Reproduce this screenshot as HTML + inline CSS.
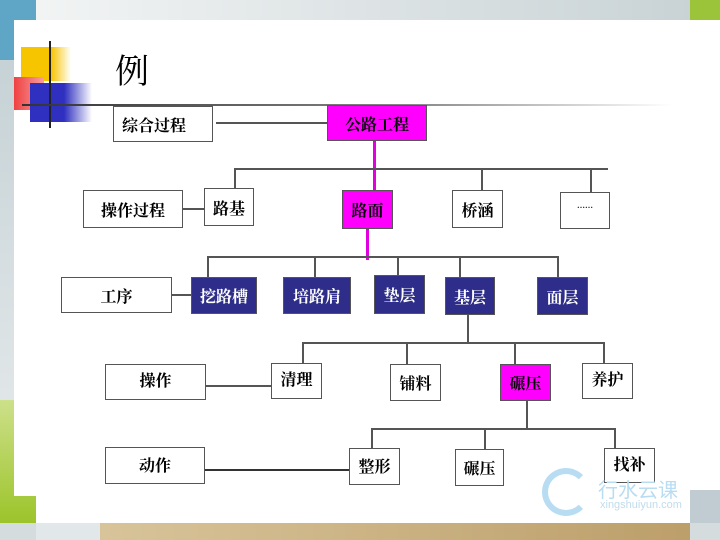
<!DOCTYPE html>
<html><head><meta charset="utf-8"><style>
body{margin:0;width:720px;height:540px;overflow:hidden;position:relative;background:#d4dcde;font-family:"Liberation Serif","Noto Serif CJK SC","Noto Sans CJK SC",serif}
div{position:absolute;box-sizing:border-box}
.b{border:1.5px solid #555;background:#fff;display:flex;align-items:center;justify-content:center;font-size:16px;font-weight:bold;color:#000}
.m{background:#f0f;border-color:#555}
.n{background:#2e2e8a;color:#fff;border-color:#555}
.h{height:1.5px;background:#555}
.v{width:1.5px;background:#555}
</style></head><body>
<div style="left:0;top:0;width:36px;height:60px;background:#5fa6c6"></div>
<div style="left:0;top:60px;width:36px;height:340px;background:linear-gradient(#c6d2d6,#e0e6e8)"></div>
<div style="left:0;top:400px;width:36px;height:123px;background:linear-gradient(#cde08a,#9cc42a)"></div>
<div style="left:36px;top:0;width:654px;height:20px;background:linear-gradient(90deg,#f2f4f4,#c9d3d6)"></div>
<div style="left:690px;top:0;width:30px;height:20px;background:#9cc43a"></div>
<div style="left:690px;top:490px;width:30px;height:33px;background:#c0ccd2"></div>
<div style="left:100px;top:523px;width:590px;height:17px;background:linear-gradient(90deg,#d8c49a,#bc9f6a)"></div>
<div style="left:36px;top:523px;width:64px;height:17px;background:#e2e8ea"></div>
<div style="left:14px;top:20px;width:706px;height:470px;background:#fff"></div>
<div style="left:36px;top:490px;width:654px;height:33px;background:#fff"></div>
<div style="left:14px;top:490px;width:22px;height:6px;background:#fff"></div>
<div style="left:21px;top:47px;width:50px;height:34px;background:linear-gradient(90deg,#f7c400 60%,rgba(247,196,0,0))"></div>
<div style="left:14px;top:77px;width:30px;height:33px;background:linear-gradient(90deg,#f04040,#f8a0a0)"></div>
<div style="left:30px;top:83px;width:62px;height:39px;background:linear-gradient(90deg,#3030c0 55%,rgba(48,48,192,0))"></div>
<div style="left:49px;top:41px;width:2px;height:87px;background:#222"></div>
<div style="left:22px;top:104px;width:650px;height:2px;background:linear-gradient(90deg,#333,#888 60%,rgba(255,255,255,0))"></div>
<div style="left:115px;top:44px;font-size:34px;color:#000">例</div>

<div class="h" style="left:216px;top:122px;width:111px"></div>
<div style="left:373px;top:141px;width:3px;height:51px;background:#e000e0"></div>
<div style="left:366px;top:228px;width:3px;height:32px;background:#e000e0"></div>
<div class="h" style="left:234px;top:168px;width:374px"></div>
<div class="v" style="left:234px;top:168px;height:20px"></div>
<div class="v" style="left:481px;top:168px;height:22px"></div>
<div class="v" style="left:590px;top:168px;height:24px"></div>
<div class="h" style="left:182px;top:208px;width:22px"></div>
<div class="h" style="left:207px;top:256px;width:350px"></div>
<div class="v" style="left:207px;top:256px;height:21px"></div>
<div class="v" style="left:314px;top:256px;height:21px"></div>
<div class="v" style="left:397px;top:256px;height:19px"></div>
<div class="v" style="left:459px;top:256px;height:21px"></div>
<div class="v" style="left:557px;top:256px;height:21px"></div>
<div class="h" style="left:171px;top:294px;width:20px"></div>
<div class="v" style="left:467px;top:314px;height:28px"></div>
<div class="h" style="left:302px;top:342px;width:302px"></div>
<div class="v" style="left:302px;top:342px;height:21px"></div>
<div class="v" style="left:406px;top:342px;height:22px"></div>
<div class="v" style="left:514px;top:342px;height:22px"></div>
<div class="v" style="left:603px;top:342px;height:21px"></div>
<div class="h" style="left:205px;top:385px;width:66px"></div>
<div class="v" style="left:526px;top:400px;height:28px"></div>
<div class="h" style="left:371px;top:428px;width:244px"></div>
<div class="v" style="left:371px;top:428px;height:20px"></div>
<div class="v" style="left:484px;top:428px;height:21px"></div>
<div class="v" style="left:614px;top:428px;height:20px"></div>
<div class="h" style="left:204px;top:469px;width:149px;background:#333"></div>

<div class="b" style="left:113px;top:106px;width:100px;height:36px;justify-content:flex-start;padding-left:8px">综合过程</div>
<div class="b m" style="left:327px;top:105px;width:100px;height:36px">公路工程</div>
<div class="b" style="left:83px;top:190px;width:100px;height:38px">操作过程</div>
<div class="b" style="left:204px;top:188px;width:50px;height:38px">路基</div>
<div class="b m" style="left:342px;top:190px;width:51px;height:39px">路面</div>
<div class="b" style="left:452px;top:190px;width:51px;height:38px">桥涵</div>
<div class="b" style="left:560px;top:192px;width:50px;height:37px;font-size:8px;align-items:flex-start;padding-top:8px">……</div>
<div class="b" style="left:61px;top:277px;width:111px;height:36px">工序</div>
<div class="b n" style="left:191px;top:277px;width:66px;height:37px">挖路槽</div>
<div class="b n" style="left:283px;top:277px;width:68px;height:37px">培路肩</div>
<div class="b n" style="left:374px;top:275px;width:51px;height:39px">垫层</div>
<div class="b n" style="left:445px;top:277px;width:50px;height:38px">基层</div>
<div class="b n" style="left:537px;top:277px;width:51px;height:38px">面层</div>
<div class="b" style="left:105px;top:364px;width:101px;height:36px;align-items:flex-start;padding-top:3px">操作</div>
<div class="b" style="left:271px;top:363px;width:51px;height:36px;align-items:flex-start;padding-top:3px">清理</div>
<div class="b" style="left:390px;top:364px;width:51px;height:37px">铺料</div>
<div class="b m" style="left:500px;top:364px;width:51px;height:37px">碾压</div>
<div class="b" style="left:582px;top:363px;width:51px;height:36px;align-items:flex-start;padding-top:3px">养护</div>
<div class="b" style="left:105px;top:447px;width:100px;height:37px;align-items:flex-start;padding-top:5px">动作</div>
<div class="b" style="left:349px;top:448px;width:51px;height:37px;align-items:flex-start;padding-top:5px">整形</div>
<div class="b" style="left:455px;top:449px;width:49px;height:37px">碾压</div>
<div class="b" style="left:604px;top:448px;width:51px;height:35px;align-items:flex-start;padding-top:3px">找补</div>

<div style="left:542px;top:468px;width:48px;height:48px;border-radius:50%;border:6px solid #b8ddf2;border-right-color:transparent"></div>
<div style="left:598px;top:474px;font-family:'Liberation Sans','Noto Sans CJK SC',sans-serif;font-size:20px;color:#b8ddf2">行水云课</div>
<div style="left:600px;top:499px;font-family:'Liberation Sans',sans-serif;font-size:11px;color:#c0dcec">xingshuiyun.com</div>
</body></html>
